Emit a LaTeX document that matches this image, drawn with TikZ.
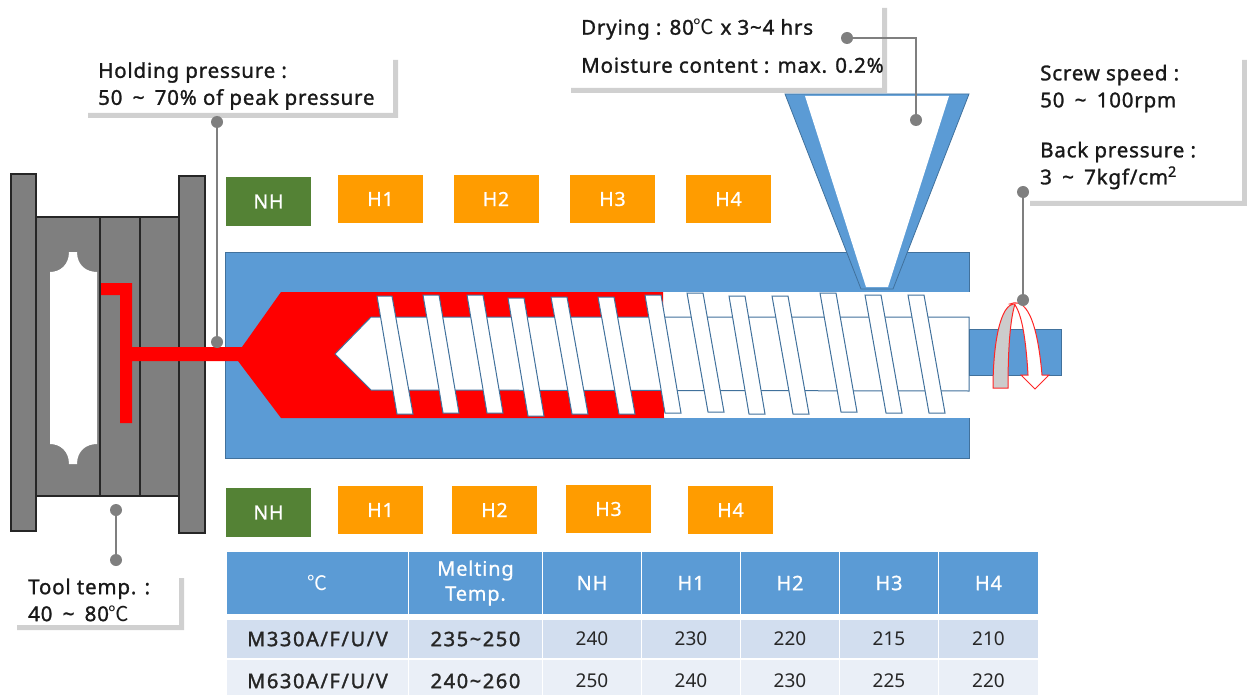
\documentclass[tikz,border=0pt]{standalone}
\usepackage{fontspec}
\setmainfont{Noto Sans}
\newfontfamily\notefont[FakeBold=1.3,LetterSpace=4]{Noto Sans}
\newfontfamily\namefont[FakeBold=1.6,LetterSpace=8]{Noto Sans}
\newfontfamily\headfont[FakeBold=0.8,LetterSpace=4]{Noto Sans}
\newfontfamily\cjk{Noto Sans CJK KR}
\newcommand{\degc}{{\cjk ℃}}
\newcommand{\wave}{\textasciitilde}
\newcommand{\widewave}{\hskip.5em\wave\hskip.5em}
\definecolor{barrelblue}{HTML}{5B9BD5}
\definecolor{edgeblue}{HTML}{41719C}
\definecolor{heaterorange}{HTML}{FF9C00}
\definecolor{nozzlegreen}{HTML}{548235}
\definecolor{moldgray}{HTML}{7F7F7F}
\definecolor{shadowgray}{HTML}{D0D0D0}
\definecolor{rowdark}{HTML}{D2DEEF}
\definecolor{rowlight}{HTML}{EAEFF7}
\tikzset{
  heater/.style={fill=heaterorange, text=white, minimum width=85, minimum height=48, inner sep=0,
    font=\headfont\fontsize{19.5}{22}\selectfont},
  nozzle/.style={heater, fill=nozzlegreen, minimum height=49},
  note/.style={anchor=west, inner sep=0, align=left, text=black!90,
    font=\notefont\fontsize{20.5}{27}\selectfont},
  pin/.style={circle, fill=moldgray, minimum size=12, inner sep=0},
  leader/.style={draw=moldgray, line width=1.1},
  plate/.style={fill=moldgray, draw=black!85, line width=1.1},
  flight/.style={fill=white, draw=edgeblue, line width=1},
  cell/.style={inner sep=0, align=center, font=\fontsize{19}{25}\selectfont, text=black!85},
  headcell/.style={cell, fill=barrelblue, text=white, minimum height=62, font=\headfont\fontsize{20}{25}\selectfont},
  darkcell/.style={cell, fill=rowdark, minimum height=38},
  lightcell/.style={cell, fill=rowlight, minimum height=42},
  namecell/.style={font=\namefont\fontsize{20}{25}\selectfont}
}
\begin{document}
\begin{tikzpicture}[x=1pt, y=-1pt]

        \clip (0,0) rectangle (1247,695);
        \useasboundingbox (0,0) rectangle (1247,695);

        \fill[shadowgray] (88,113) -- (393,113) -- (393,60) -- (398,60) -- (398,118) -- (88,118) -- cycle;
        \fill[shadowgray] (571,88) -- (882,88) -- (882,8) -- (887,8) -- (887,93) -- (571,93) -- cycle;
        \fill[shadowgray] (1030,201) -- (1242,201) -- (1242,60) -- (1247,60) -- (1247,206) -- (1030,206) -- cycle;
        \fill[shadowgray] (17,625) -- (179,625) -- (179,578) -- (184,578) -- (184,630) -- (17,630) -- cycle;

        \begin{scope}[every path/.style={plate}]
          \draw (36,217) rectangle (100,496);
          \draw (100,217) rectangle (140,496);
          \draw (140,217) rectangle (179,496);
          \draw (11,174) rectangle (36,531);
          \draw (179,176) rectangle (205,533);
        \end{scope}
        \fill[white] (50,272) .. controls (60,272) and (69,265) .. (69,252) -- (77,252)
          .. controls (77,265) and (86,272) .. (97,272) -- (97,444)
          .. controls (86,444) and (77,451) .. (77,464) -- (69,464)
          .. controls (69,451) and (60,444) .. (50,444) -- cycle;

        \draw[fill=barrelblue, draw=edgeblue, line width=.8] (225,252) rectangle (969,458);
        \fill[white] (281,292) rectangle (971,418);
        \fill[red] (101,283) -- (132,283) -- (132,347) -- (242,347) -- (281,292) -- (663,292)
          -- (664,418) -- (281,418) -- (238,361) -- (132,361) -- (132,423) -- (120,423)
          -- (120,295) -- (101,295) -- cycle;

        \draw[flight] (335,354) -- (371,317) -- (969,317) -- (969,391) -- (371,390) -- cycle;
        \draw[fill=barrelblue, draw=edgeblue, line width=.8] (969,329) rectangle (1061,375);

        \begin{scope}[every path/.style={flight}]
          \draw (377,296) -- (392,296) -- (413,414) -- (397,414) -- cycle;
          \draw (423,295) -- (439,295) -- (459,413) -- (443,413) -- cycle;
          \draw (467,295) -- (483,295) -- (503,413) -- (487,413) -- cycle;
          \draw (508,298) -- (524,298) -- (544,416) -- (528,416) -- cycle;
          \draw (551,297) -- (567,297) -- (588,414) -- (572,414) -- cycle;
          \draw (598,297) -- (614,297) -- (635,414) -- (619,414) -- cycle;
          \draw (645,295) -- (661,295) -- (681,413) -- (665,413) -- cycle;
          \draw (687,293) -- (703,293) -- (724,412) -- (708,412) -- cycle;
          \draw (729,296) -- (745,296) -- (765,414) -- (749,414) -- cycle;
          \draw (772,296) -- (788,296) -- (809,414) -- (793,414) -- cycle;
          \draw (820,293) -- (836,293) -- (857,412) -- (841,412) -- cycle;
          \draw (865,295) -- (881,295) -- (902,413) -- (886,413) -- cycle;
          \draw (908,295) -- (924,295) -- (945,413) -- (929,413) -- cycle;
        \end{scope}

        \draw[fill=barrelblue, draw=edgeblue, line width=.8] (785,94) -- (969,94) -- (893,289) -- (861,289) -- cycle;
        \fill[white] (805,96) -- (949,96) -- (888,287) -- (866,287) -- cycle;

        \draw[fill=white, draw=red!85, line width=1] (1010,304) .. controls (1021,299) and (1036,306) .. (1042,375)
          -- (1049,375) -- (1035,389) -- (1021,375) -- (1028,375) .. controls (1026,340) and (1022,315) .. (1015,305) -- cycle;
        \draw[fill=black!20, draw=red!85, line width=1] (993,388) .. controls (993,345) and (1000,303) .. (1015,304)
          .. controls (1010,320) and (1008,350) .. (1008,388) -- cycle;

        \begin{scope}[every node/.style={heater}]
          \node (h1t) at (380.5,199) {H1};
          \node (h2t) at (496,199) {H2};
          \node (h3t) at (612.5,199) {H3};
          \node (h4t) at (728.5,199) {H4};
          \node (h1b) at (380.5,510) {H1};
          \node (h2b) at (494.5,510) {H2};
          \node (h3b) at (608.5,509) {H3};
          \node (h4b) at (730.5,510) {H4};
        \end{scope}
        \node[nozzle] (nht) at (268.5,201.5) {NH};
        \node[nozzle] (nhb) at (268.5,512.5) {NH};

        \node[note] (holding) at (98,86) {Holding pressure :\\50\widewave 70\% of peak pressure};
        \node[note] (drying) at (581,46) {Drying : 80\degc{} x 3\wave{}4 hrs\\[11pt]Moisture content : max. 0.2\%};
        \node[note] (screw) at (1040,127) {Screw speed :\\50\widewave 100rpm\\[23pt]Back pressure :\\3\widewave 7kgf/cm\textsuperscript{2}};
        \node[note] (tool) at (28,600) {Tool temp. :\\40\widewave 80\degc};

        \begin{scope}[every node/.style={pin}]
          \node (pin1) at (217,122) {};
          \node (pin2) at (217,342) {};
          \node (pin3) at (847,38) {};
          \node (pin4) at (916,120) {};
          \node (pin5) at (1023,192) {};
          \node (pin6) at (1023,300) {};
          \node (pin7) at (116,510) {};
          \node (pin8) at (116,560) {};
        \end{scope}
        \path[leader] (pin1) edge (pin2);
        \path[leader] (pin5) edge (pin6);
        \path[leader] (pin7) edge (pin8);
        \draw[leader] (pin3) -| (pin4);

        \begin{scope}[every node/.style={headcell}]
          \node[minimum width=181] (c1) at (317.5,583) {\degc};
          \node[minimum width=133] (c2) at (475.5,583) {Melting\\Temp.};
          \node[minimum width=98] (c3) at (592,583) {NH};
          \node[minimum width=98] (c4) at (691,583) {H1};
          \node[minimum width=98] (c5) at (790,583) {H2};
          \node[minimum width=98] (c6) at (889,583) {H3};
          \node[minimum width=99] (c7) at (988.5,583) {H4};
        \end{scope}
        \begin{scope}[every node/.style={darkcell}]
          \node[minimum width=181, namecell] (a1) at (317.5,639) {M330A/F/U/V};
          \node[minimum width=133, namecell] (a2) at (475.5,639) {235\wave{}250};
          \node[minimum width=98] (a3) at (592,639) {240};
          \node[minimum width=98] (a4) at (691,639) {230};
          \node[minimum width=98] (a5) at (790,639) {220};
          \node[minimum width=98] (a6) at (889,639) {215};
          \node[minimum width=99] (a7) at (988.5,639) {210};
        \end{scope}
        \begin{scope}[every node/.style={lightcell}]
          \node[minimum width=181, namecell] (b1) at (317.5,681) {M630A/F/U/V};
          \node[minimum width=133, namecell] (b2) at (475.5,681) {240\wave{}260};
          \node[minimum width=98] (b3) at (592,681) {250};
          \node[minimum width=98] (b4) at (691,681) {240};
          \node[minimum width=98] (b5) at (790,681) {230};
          \node[minimum width=98] (b6) at (889,681) {225};
          \node[minimum width=99] (b7) at (988.5,681) {220};
        \end{scope}

      \end{tikzpicture}
\end{document}
